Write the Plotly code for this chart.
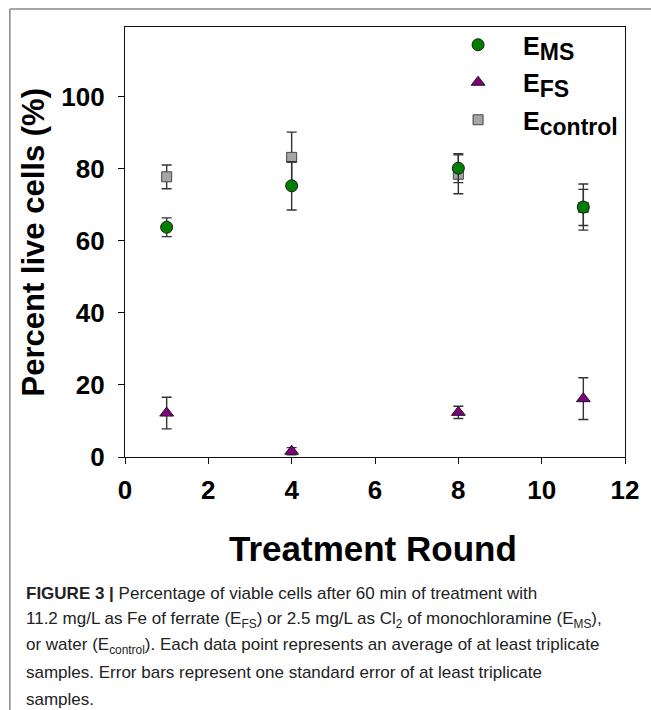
import plotly.graph_objects as go

# ---- data ----
rounds = [1, 4, 8, 11]
ems = [63.8, 75.3, 80.2, 69.4]
ems_err = [2.6, 6.7, 4.0, 6.4]
efs = [12.2, 1.6, 12.4, 16.2]
efs_err = [4.4, 1.0, 1.7, 5.8]
ectrl = [77.8, 83.2, 78.5, 69.3]
ectrl_err = [3.3, 7.0, 5.4, 5.0]
x_ticks = [0, 2, 4, 6, 8, 10, 12]
y_ticks = [0, 20, 40, 60, 80, 100]

caption_lines = [
    "<b>FIGURE 3 |</b> Percentage of viable cells after 60 min of treatment with",
    "11.2 mg/L as Fe of ferrate (E<sub>FS</sub>) or 2.5 mg/L as Cl<sub>2</sub> of monochloramine (E<sub>MS</sub>),",
    "or water (E<sub>control</sub>). Each data point represents an average of at least triplicate",
    "samples. Error bars represent one standard error of at least triplicate",
    "samples.",
]

W, H = 651, 710
L, R, T, B = 125, 633, 27, 457
FONT = "Liberation Sans, Arial, sans-serif"


def px(xp):
    return (xp - L) / (R - L)


def py(yp):
    return (B - yp) / (B - T)


def leg(main, sub):
    return main + '<sub><span style="font-size:23px">' + sub + "</span></sub>"


fig = go.Figure()
err_style = dict(type="data", visible=True, color="#333333", thickness=1.4, width=5)

fig.add_trace(go.Scatter(
    x=rounds, y=ectrl, mode="markers", name=leg("E", "control"),
    legendgroup="c", legendrank=3,
    marker=dict(symbol="square", size=10, color="#a6a6a6", line=dict(color="#444444", width=1)),
    error_y=dict(array=ectrl_err, **err_style),
))
fig.add_trace(go.Scatter(
    x=rounds, y=ems, mode="markers", name=leg("E", "MS"),
    legendgroup="m", legendrank=1,
    marker=dict(symbol="circle", size=12, color="#008000", line=dict(color="#1a1a1a", width=1)),
    error_y=dict(array=ems_err, **err_style),
))
fig.add_trace(go.Scatter(
    x=rounds, y=efs, mode="markers", name=leg("E", "FS"),
    legendgroup="f", legendrank=2,
    marker=dict(symbol="triangle-up", size=12, color="#800080", line=dict(color="#1a1a1a", width=1)),
    error_y=dict(array=efs_err, **err_style),
))

axis_common = dict(
    showline=True, linecolor="#111111", linewidth=1.3, mirror=True,
    ticks="outside", ticklen=6, tickwidth=1.3, tickcolor="#111111",
    showgrid=False, zeroline=False,
    tickfont=dict(family=FONT, size=26, color="#000000", weight="bold"),
)

fig.update_layout(
    width=W, height=H, autosize=False,
    margin=dict(l=L, r=W - R, t=T, b=H - B, pad=0),
    paper_bgcolor="white", plot_bgcolor="white",
    xaxis=dict(range=[0, 12], tickvals=x_ticks, ticklabelstandoff=4, **axis_common),
    yaxis=dict(range=[0, 119.4], tickvals=y_ticks, ticklabelstandoff=8, **axis_common),
    showlegend=True,
    legend=dict(
        x=px(438), y=py(22), xanchor="left", yanchor="top",
        bgcolor="rgba(0,0,0,0)", itemwidth=80, tracegroupgap=2,
        font=dict(family=FONT, size=25, color="#000000", weight="bold"),
    ),
)

annotations = [
    dict(text="Treatment Round", x=px(377), y=py(548), xref="paper", yref="paper",
         xanchor="center", yanchor="middle", showarrow=False,
         font=dict(family=FONT, size=35, color="#000000", weight="bold")),
    dict(text="Percent live cells (%)", x=px(32), y=0.5, xref="paper", yref="paper",
         xanchor="center", yanchor="middle", showarrow=False, textangle=-90,
         font=dict(family=FONT, size=31, color="#000000", weight="bold")),
]
for i, line in enumerate(caption_lines):
    annotations.append(dict(
        text=line, x=px(22), y=py(593 + 26.5 * i), xref="paper", yref="paper",
        xanchor="left", yanchor="middle", showarrow=False, align="left",
        font=dict(family=FONT, size=17, color="#222222"),
    ))
fig.update_layout(annotations=annotations)

fig.update_layout(shapes=[
    dict(type="line", xref="paper", yref="paper", x0=px(8), x1=px(660), y0=py(9), y1=py(9),
         line=dict(color="#888888", width=1.5)),
    dict(type="line", xref="paper", yref="paper", x0=px(8), x1=px(8), y0=py(9), y1=py(720),
         line=dict(color="#888888", width=1.5)),
])

fig.write_html("out.html")
